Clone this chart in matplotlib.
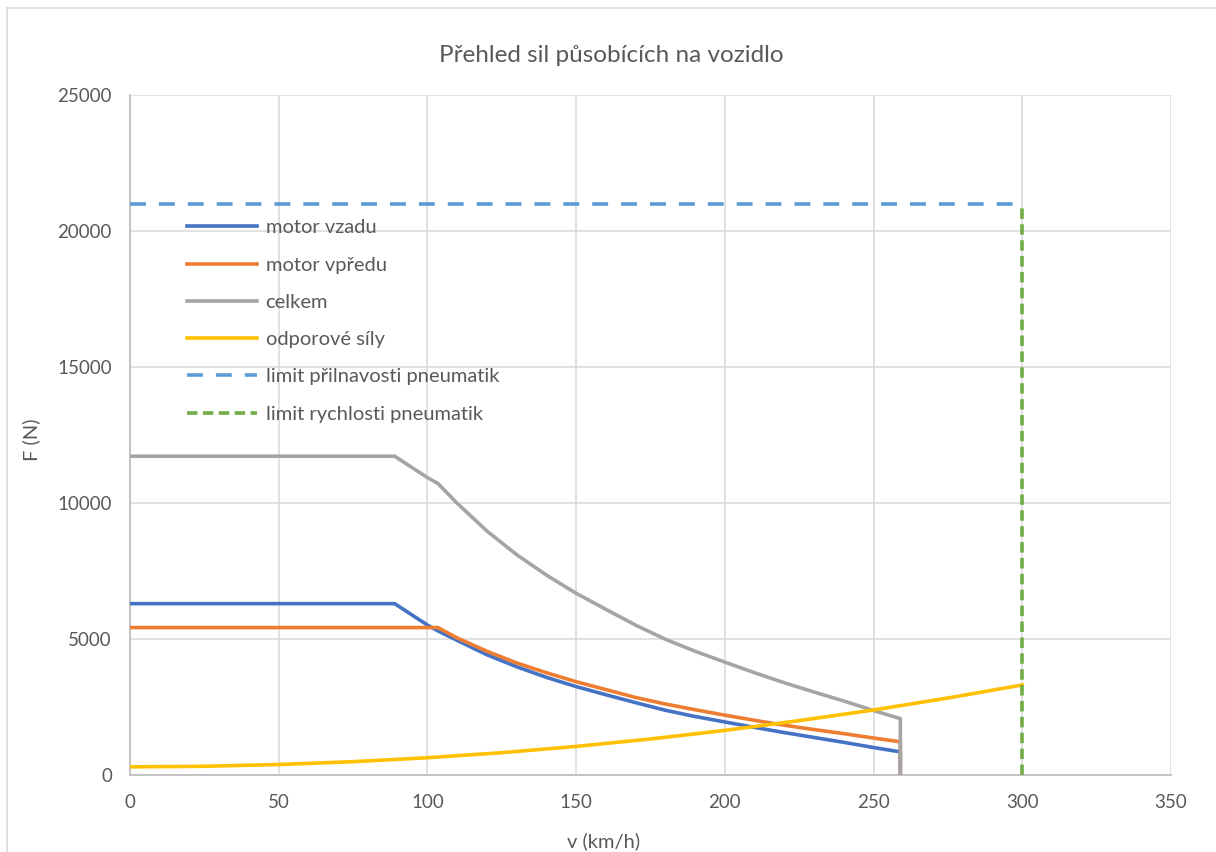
import numpy as np
import matplotlib.pyplot as plt
from matplotlib.lines import Line2D

# rychlost (km/h) a tazne sily motoru (N)
v_motor = [0, 89, 95, 100, 103.5, 110, 120, 130, 140, 150, 160, 170, 180,
           190, 200, 210, 220, 230, 240, 250, 259, 259]
f_vzadu = [6300, 6300, 5870, 5514, 5300, 4950, 4420, 3980, 3590, 3250, 2950,
           2660, 2380, 2150, 1950, 1750, 1560, 1380, 1200, 1010, 850, 0]
f_vpredu = [5420, 5420, 5420, 5420, 5420, 5040, 4550, 4120, 3760, 3430, 3140,
            2850, 2610, 2400, 2200, 2010, 1830, 1670, 1520, 1360, 1220, 0]
f_celkem = list(np.array(f_vzadu) + np.array(f_vpredu))

# odporove sily
v_odpor = [0, 25, 50, 75, 100, 125, 150, 175, 200, 225, 250, 275, 300]
f_odpor = [300, 320, 385, 490, 635, 820, 1050, 1325, 1640, 2000, 2390, 2830, 3310]

# limity pneumatik
limit_f = 21000
limit_v = 300

FONT = 'Lato'
TXT = '#595959'
plt.rcParams['font.family'] = [FONT, 'DejaVu Sans']

fig = plt.figure(figsize=(12.16, 8.52), dpi=100)
ax = fig.add_axes([130/1216, 77/852, 1041/1216, 680/852])

lw = 2.6
ax.plot(v_motor, f_vzadu, color='#4472C4', lw=lw, label='motor vzadu', zorder=3)
ax.plot(v_motor, f_vpredu, color='#ED7D31', lw=lw, label='motor vpředu', zorder=3)
ax.plot(v_motor, f_celkem, color='#A5A5A5', lw=lw, label='celkem', zorder=3)
ax.plot(v_odpor, f_odpor, color='#FFC000', lw=lw, label='odporové síly', zorder=3)
ax.plot([0, limit_v], [limit_f, limit_f], color='#5B9BD5', lw=lw,
        dashes=(4.4, 3.6), label='limit přilnavosti pneumatik', zorder=3)
ax.plot([limit_v, limit_v], [0, limit_f], color='#70AD47', lw=lw,
        dashes=(2.9, 1.5), label='limit rychlosti pneumatik', zorder=3)

ax.set_xlim(0, 350)
ax.set_ylim(0, 25000)
ax.set_xticks(range(0, 351, 50))
ax.set_yticks(range(0, 25001, 5000))
ax.grid(True, color='#D9D9D9', lw=1.1, zorder=0)
ax.set_axisbelow(True)
for s in ['top', 'right']:
    ax.spines[s].set_visible(False)
for s in ['left', 'bottom']:
    ax.spines[s].set_color('#BFBFBF')
    ax.spines[s].set_linewidth(1.3)
ax.tick_params(length=0, labelsize=13.5, labelcolor=TXT)
ax.tick_params(axis='y', pad=13)
ax.tick_params(axis='x', pad=14)

ax.set_xlabel('v (km/h)', fontsize=14.5, color=TXT)
ax.xaxis.set_label_coords((604 - 130) / 1041, -57 / 680)
ax.set_ylabel('F (N)', fontsize=14.5, color=TXT)
ax.yaxis.set_label_coords(-90 / 1041, (775 - 440) / 680)
fig.text(611/1216, 1 - 55/852, 'Přehled sil působících na vozidlo', fontsize=17.5,
         color=TXT, ha='center', va='center')

leg = ax.legend(loc='upper left', bbox_to_anchor=(0.047, 0.829), frameon=False,
                fontsize=14.5, handlelength=3.5, handletextpad=0.4,
                labelspacing=1.0, borderaxespad=0)
for t in leg.get_texts():
    t.set_color(TXT)

# ramecek grafu
fig.add_artist(Line2D([7/1216, 7/1216], [0, 1 - 8/852], color='#D9D9D9', lw=1.2))
fig.add_artist(Line2D([7/1216, 1], [1 - 8/852, 1 - 8/852], color='#D9D9D9', lw=1.2))

fig.savefig('out.png', dpi=100)
